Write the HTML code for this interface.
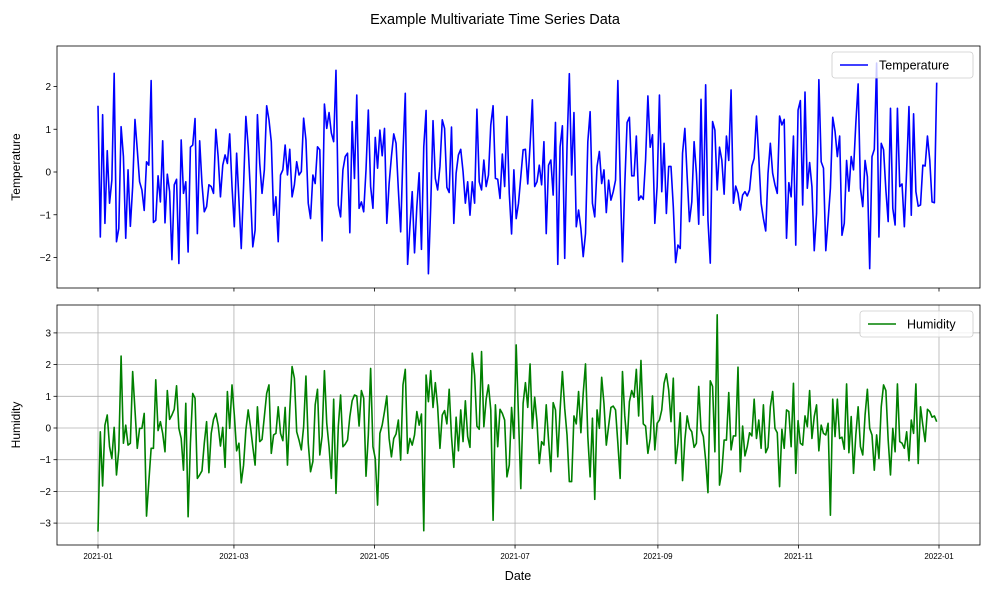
<!DOCTYPE html>
<html><head><meta charset="utf-8"><style>
body{margin:0;background:#fff;}
svg{display:block;font-family:"Liberation Sans","DejaVu Sans",sans-serif;}
</style></head><body>
<svg id="chart" width="990" height="593" viewBox="0 0 990 593" xmlns="http://www.w3.org/2000/svg">
<text x="495" y="24" text-anchor="middle" font-size="14.5" fill="#000">Example Multivariate Time Series Data</text>
<g id="top"></g>
<g id="bot"></g>
</svg>
<script>
const tickDays = [0, 59, 120, 181, 243, 304, 365];
const tickLabels = ["2021-01","2021-03","2021-05","2021-07","2021-09","2021-11","2022-01"];
const tempTicks = [-2, -1, 0, 1, 2];
const humTicks = [-3, -2, -1, 0, 1, 2, 3];
const temperature = [1.55,-1.52,1.34,-1.2,0.5,-0.73,-0.19,2.31,-1.63,-1.32,1.06,0.36,-1.55,0.05,-1.27,-0.34,1.23,0.52,-0.23,-0.42,-0.9,0.24,0.16,2.14,-1.18,-1.13,-0.09,-0.7,0.73,-1.19,-0.05,-0.46,-2.05,-0.3,-0.17,-2.14,0.75,-0.5,-0.23,-1.87,0.58,0.63,1.25,-1.44,0.73,-0.27,-0.93,-0.81,-0.3,-0.34,-0.5,1.0,0.36,-0.58,0.16,0.4,0.2,0.89,-0.34,-1.28,0.44,
-0.66,-1.79,-0.34,1.3,0.59,-0.5,-1.75,-1.36,1.34,0.2,-0.5,0.05,1.55,1.22,0.71,-1.01,-0.58,-1.63,-0.07,0.05,0.63,-0.07,0.53,-0.58,-0.3,0.24,-0.07,0.01,1.26,0.75,-0.73,-1.09,-0.07,-0.27,0.59,0.52,-1.61,1.59,1.02,1.39,0.91,0.71,2.38,-0.77,-1.05,0.05,0.36,0.44,-1.42,1.18,-0.15,1.8,-0.85,-0.7,-0.93,0.05,1.45,-0.34,-0.85,0.81,0.09,
0.98,0.38,1.02,-1.2,-0.27,0.36,0.89,0.67,-0.42,-1.4,0.44,1.84,-2.16,-1.28,-0.46,-1.89,-0.81,-0.02,-1.81,0.59,1.44,-2.38,-0.81,1.2,-0.15,-0.42,0.13,1.22,1.02,-0.36,-0.48,1.05,-1.2,-0.03,0.4,0.53,0.01,-0.73,-0.23,-1.01,-0.23,-0.73,1.47,-0.23,-0.42,0.28,-0.34,-0.07,1.1,1.55,-0.15,-0.17,-0.62,0.42,-0.34,1.3,-0.5,-1.45,0.05,-1.09,-0.73,
-0.11,0.52,0.53,-0.28,0.63,1.69,-0.34,-0.23,0.16,-0.3,0.71,-1.44,0.16,0.28,-0.54,1.16,-2.16,0.59,1.08,-2.02,0.59,2.3,-0.07,1.39,-1.28,-0.89,-1.32,-1.98,-1.44,0.71,1.41,-0.73,-1.05,0.13,0.48,-0.27,0.05,-0.95,-0.19,-0.66,-0.46,-0.19,2.14,-0.15,-2.1,-0.3,1.16,1.28,-0.09,-0.09,0.84,-0.66,-0.56,-0.64,0.28,1.78,0.58,0.87,-1.2,-0.34,
1.8,-0.46,0.67,-0.97,0.13,0.13,-0.81,-2.12,-1.71,-1.79,0.44,1.02,-0.11,-1.16,-0.7,0.71,-0.03,-1.22,1.7,-1.01,2.04,-1.13,-2.13,1.18,0.98,-0.42,0.58,0.28,-0.52,0.84,0.27,1.92,-0.73,-0.33,-0.5,-0.89,-0.54,-0.46,-0.56,-0.42,0.14,0.32,1.31,0.34,-0.73,-1.09,-1.38,-0.03,0.67,-0.03,-0.3,-0.5,1.31,1.1,1.23,-1.55,-0.25,-0.58,0.84,-1.71,1.45,
1.67,-0.77,1.87,-0.38,0.22,-0.34,-1.84,-0.97,2.16,0.24,0.09,-1.84,-1.13,-0.38,1.28,0.95,0.36,0.84,-1.48,-1.2,0.27,-0.45,0.36,0.05,1.14,2.06,-0.38,-0.81,0.27,-0.11,-2.26,0.36,0.53,2.55,-1.52,0.67,0.52,-0.42,-1.16,1.49,-0.85,-1.24,1.49,-0.34,-0.28,-1.28,0.05,1.53,-1.01,1.36,-0.46,-0.8,-0.77,0.16,0.14,0.84,0.28,-0.7,-0.72,2.09];
const humidity = [-3.27,-0.12,-1.83,0.09,0.41,-0.59,-0.96,0.02,-1.48,-0.69,2.27,-0.48,0.09,-0.54,-0.48,1.78,0.57,-0.64,-0.01,-0.01,0.46,-2.78,-1.69,-0.64,-0.64,1.52,-0.08,0.2,-0.17,-0.75,1.18,0.27,0.41,0.59,1.33,-0.01,-0.33,-1.33,0.78,-2.8,-0.48,1.09,0.94,-1.59,-1.48,-1.35,-0.48,0.2,-1.41,-0.17,0.27,0.46,0.09,-0.57,0.02,-1.24,1.15,-0.01,1.36,0.41,-0.72,-0.48,
-1.73,-1.17,-0.06,0.57,0.04,-0.59,-1.17,0.67,-0.43,-0.36,0.36,1.09,1.36,-0.8,-0.22,-0.17,0.67,-0.17,-0.4,0.65,-1.17,0.57,1.94,1.57,-0.12,-0.38,-0.69,0.04,1.64,-0.48,-1.38,-1.06,0.73,1.22,-0.85,-0.25,1.81,0.15,-0.59,-1.59,0.91,-2.06,0.04,1.04,-0.59,-0.51,-0.38,0.36,0.86,1.04,1.01,0.06,1.18,0.94,-1.52,-0.22,1.88,-0.59,-0.96,-2.43,-0.17,
0.09,0.52,1.01,-0.33,-0.91,-0.33,-0.19,0.25,-1.01,1.36,1.85,-0.8,-0.33,-0.54,-0.22,0.52,0.09,0.44,-3.24,1.67,0.83,1.81,0.65,1.43,0.67,-0.64,0.41,0.55,0.13,1.22,-0.27,-1.24,0.34,-0.72,0.57,-0.43,0.86,-0.27,-0.61,2.36,1.67,0.06,-0.04,2.41,0.04,0.91,1.36,0.57,-2.91,0.73,-0.59,0.59,0.46,0.25,-1.54,-1.17,0.65,-0.33,2.62,
0.36,-1.91,0.78,1.43,0.65,2.02,-0.01,0.97,0.2,-1.12,-0.43,-0.54,0.73,-0.38,-1.38,0.8,0.57,-0.91,0.57,1.78,0.62,-0.22,-1.69,-1.69,0.38,0.13,1.15,-0.15,1.09,2.02,-0.27,-1.54,0.31,-2.25,0.57,-0.01,1.6,0.76,-0.54,0.06,0.65,0.69,0.57,-0.48,-1.59,1.78,0.38,-0.51,0.83,1.18,0.97,1.85,0.38,2.13,0.13,0.06,-0.8,-0.33,1.01,-0.69,0.15,
0.25,0.57,1.41,1.71,1.2,0.2,1.57,-1.12,-0.48,0.48,-1.66,-0.38,0.38,-0.01,-0.12,-0.61,-0.48,1.31,-0.06,-0.27,-1.01,-2.04,1.49,1.31,-0.75,3.57,-1.8,-1.38,-0.38,-0.38,1.12,-0.69,-0.25,-0.25,1.92,-1.38,0.06,-0.88,-0.59,-0.15,-0.25,0.91,-0.33,0.25,-0.64,0.73,-0.78,-0.61,0.67,1.15,-0.01,-0.15,-1.85,-0.04,-0.64,0.57,0.52,-0.59,1.41,-1.43,0.23,
-0.48,-0.54,0.38,0.04,1.18,-0.33,0.36,0.73,-0.72,0.09,-0.17,-0.22,0.15,-2.75,0.91,-0.27,0.91,-0.33,-0.29,-0.67,1.39,-0.78,0.36,-1.43,-0.22,0.67,-0.59,-0.85,0.41,1.22,-0.01,-0.22,-1.33,-0.22,-0.96,0.67,1.36,1.18,-0.38,-1.48,-0.01,-0.75,1.39,-0.43,-0.48,-0.64,-0.12,-1.03,0.25,-0.17,1.39,-1.12,0.67,0.09,-0.43,0.59,0.52,0.34,0.38,0.2];

const NS = "http://www.w3.org/2000/svg";
const L = 57, R = 980;
const xDay = d => 98 + d * 841 / 365;
function mk(tag, attrs, parent, text) {
  const e = document.createElementNS(NS, tag);
  for (const k in attrs) e.setAttribute(k, attrs[k]);
  if (text !== undefined) e.textContent = text;
  parent.appendChild(e);
  return e;
}
function panel(g, top, bottom, yScale, ticks, values, color, label, grid, showX, legendX, legendW) {
  if (grid) {
    tickDays.forEach(d => {
      const gl = mk("line", {x1: xDay(d), x2: xDay(d), y1: top, y2: bottom, stroke: "#b0b0b0", "stroke-width": 0.8}, g);
      
      
    });
    ticks.forEach(t => {
      const gl = mk("line", {x1: L, x2: R, y1: yScale(t), y2: yScale(t), stroke: "#b0b0b0", "stroke-width": 0.8}, g);
      
      
    });
  }
  const n = values.length;
  const pts = values.map((v, i) => xDay(i * 364 / (n - 1)).toFixed(2) + "," + yScale(v).toFixed(2)).join(" ");
  const line = mk("polyline", {points: pts, fill: "none", stroke: color, "stroke-width": 1.6, "stroke-linejoin": "round"}, g);
  
  
  const frame = mk("rect", {x: L, y: top, width: R - L, height: bottom - top, fill: "none", stroke: "#000", "stroke-width": 0.8}, g);
  
  
  ticks.forEach(t => {
    const y = yScale(t);
    const tk = mk("line", {x1: L - 3.5, x2: L, y1: y, y2: y, stroke: "#000", "stroke-width": 0.8}, g);
    
    
    const tl = mk("text", {x: L - 6, y: y + 3.5, "text-anchor": "end", "font-size": 10}, g, String(t).replace("-", "\u2212"));
    
    
  });
  tickDays.forEach((d, i) => {
    const tk = mk("line", {x1: xDay(d), x2: xDay(d), y1: bottom, y2: bottom + 3.5, stroke: "#000", "stroke-width": 0.8}, g);
    
    
    if (showX) {
      const tl = mk("text", {x: xDay(d), y: bottom + 14, "text-anchor": "middle", "font-size": 8}, g, tickLabels[i]);
      
      
    }
  });
  const cy = (top + bottom) / 2;
  const yl = mk("text", {x: 20, y: cy, "text-anchor": "middle", "font-size": 12, transform: `rotate(-90 20 ${cy})`}, g, label);
  
  
  const lg = mk("g", {}, g);
  
  
  mk("rect", {x: legendX, y: top + 6, width: legendW, height: 26, rx: 3, fill: "#fff", "fill-opacity": 0.8, stroke: "#ccc", "stroke-width": 0.8}, lg);
  const ll = mk("line", {x1: legendX + 8, x2: legendX + 36, y1: top + 19, y2: top + 19, stroke: color, "stroke-width": 1.6}, lg);
  
  
  const lt = mk("text", {x: legendX + 47, y: top + 23.5, "font-size": 12.5}, lg, label);
  
  
}
panel(document.getElementById("top"), 46, 288, v => 172 - v * 42.75, tempTicks, temperature, "#0000ff", "Temperature", false, false, 832, 141);
panel(document.getElementById("bot"), 305, 545, v => 428 - v * 31.7, humTicks, humidity, "#008000", "Humidity", true, true, 860, 113);
const xt = mk("text", {x: 518, y: 580, "text-anchor": "middle", "font-size": 12.5}, document.getElementById("chart"), "Date");


</script>
</body></html>
